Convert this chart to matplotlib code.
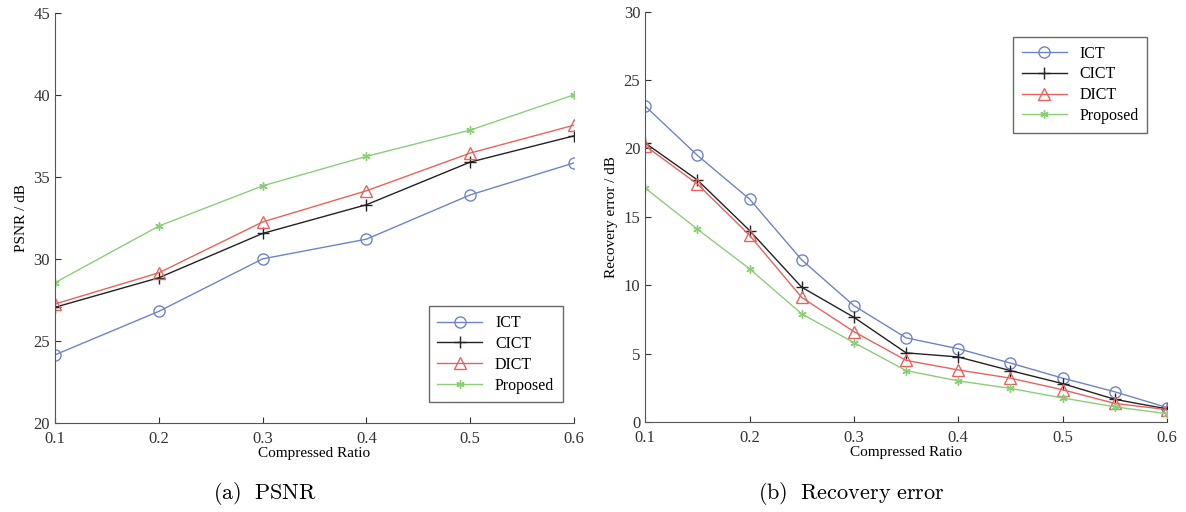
import numpy as np
import matplotlib
matplotlib.use("Agg")
import matplotlib.pyplot as plt

plt.rcParams['font.family'] = ['Liberation Serif', 'DejaVu Serif']
plt.rcParams['mathtext.fontset'] = 'cm'

# data
ratio_a = [0.1, 0.2, 0.3, 0.4, 0.5, 0.6]
psnr_ict = [24.15, 26.8, 30.0, 31.2, 33.9, 35.85]
psnr_cict = [27.05, 28.85, 31.55, 33.3, 35.9, 37.5]
psnr_dict = [27.25, 29.15, 32.25, 34.15, 36.45, 38.15]
psnr_prop = [28.55, 32.0, 34.45, 36.25, 37.85, 40.0]

ratio_b = [0.1, 0.15, 0.2, 0.25, 0.3, 0.35, 0.4, 0.45, 0.5, 0.55, 0.6]
err_ict = [23.1, 19.5, 16.3, 11.85, 8.5, 6.15, 5.35, 4.3, 3.2, 2.2, 1.05]
err_cict = [20.4, 17.7, 14.0, 9.85, 7.65, 5.05, 4.75, 3.75, 2.8, 1.65, 0.95]
err_dict = [20.2, 17.4, 13.65, 9.1, 6.6, 4.5, 3.8, 3.2, 2.35, 1.35, 0.9]
err_prop = [17.1, 14.1, 11.2, 7.9, 5.8, 3.75, 3.0, 2.45, 1.75, 1.1, 0.6]

labels = ['ICT', 'CICT', 'DICT', 'Proposed']
colors = ['#6f83c9', '#222222', '#e8625c', '#8cce78']
markers = ['o', '+', '^', (6, 2, 0)]
msizes = [8, 9, 8, 6]


def draw(ax, x, series, ylim, yticks, ylabel, legend_loc):
    for ys, lab, c, m, ms in zip(series, labels, colors, markers, msizes):
        ax.plot(x, ys, color=c, marker=m, markersize=ms, markerfacecolor='none',
                markeredgecolor=c, linewidth=1.0, markeredgewidth=1.0, label=lab)
    ax.set_xlim(0.1, 0.6)
    ax.set_ylim(*ylim)
    ax.set_xticks([0.1, 0.2, 0.3, 0.4, 0.5, 0.6])
    ax.set_yticks(yticks)
    ax.set_xlabel('Compressed Ratio', fontsize=11, labelpad=0)
    ax.set_ylabel(ylabel, fontsize=11, labelpad=4)
    ax.spines['top'].set_visible(False)
    ax.spines['right'].set_visible(False)
    for s in ['left', 'bottom']:
        ax.spines[s].set_color('#555555')
    ax.tick_params(direction='in', length=4, labelsize=12, colors='#333333')
    ax.tick_params(axis='x', pad=6)
    leg = ax.legend(loc=legend_loc, fontsize=11.5, frameon=True, fancybox=False,
                    edgecolor='#444444', handlelength=2.8, borderpad=0.55,
                    labelspacing=0.3)
    leg.get_frame().set_linewidth(1.0)


fig = plt.figure(figsize=(11.86, 5.12), dpi=100)
ax1 = fig.add_axes([0.0464, 0.174, 0.4376, 0.801])
ax2 = fig.add_axes([0.544, 0.176, 0.440, 0.801])

draw(ax1, ratio_a, [psnr_ict, psnr_cict, psnr_dict, psnr_prop],
     (20, 45), [20, 25, 30, 35, 40, 45], 'PSNR / dB', (0.72, 0.05))
draw(ax2, ratio_b, [err_ict, err_cict, err_dict, err_prop],
     (0, 30), [0, 5, 10, 15, 20, 25, 30], 'Recovery error / dB', (0.705, 0.705))

fig.text(0.223, 0.025, r'$\mathrm{(a)\ \ PSNR}$', ha='center', fontsize=16)
fig.text(0.7175, 0.025, r'$\mathrm{(b)\ \ Recovery\ error}$', ha='center', fontsize=16)

fig.savefig('out.png', dpi=100)
